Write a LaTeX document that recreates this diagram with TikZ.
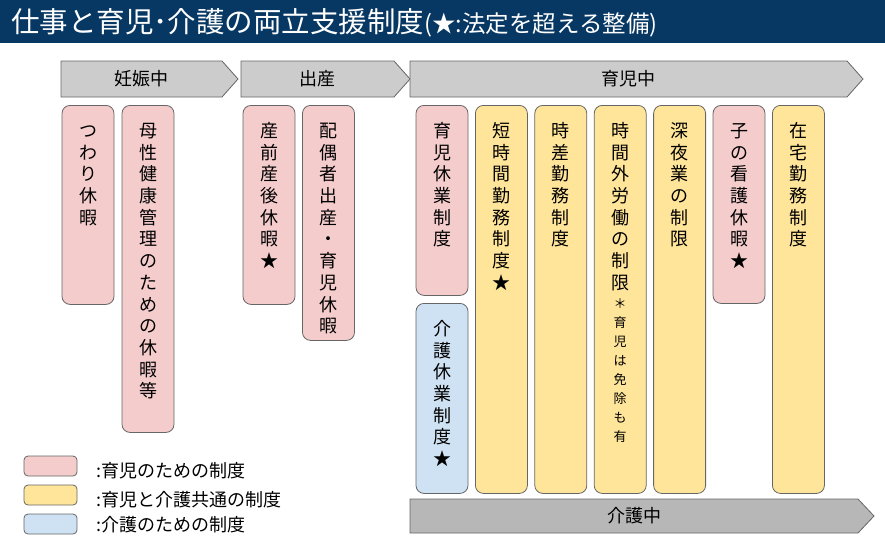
\documentclass[tikz,border=0pt]{standalone}
\usepackage{fontspec}
\setmainfont{Noto Sans CJK JP}
\newfontfamily\titlefont{Noto Sans CJK JP}
\usepackage{tikz}
\usepackage{xcolor}

\definecolor{titleblue}{HTML}{073763}
\definecolor{linegray}{HTML}{666666}
\definecolor{phasegray}{HTML}{CCCCCC}
\definecolor{kaigogray}{HTML}{B7B7B7}
\definecolor{pinkfill}{HTML}{F4CCCC}
\definecolor{yellowfill}{HTML}{FFE599}
\definecolor{bluefill}{HTML}{CFE2F3}

% vertical text, one character per line
\newcommand{\tate}[2]{\parbox[c][#1][t]{52pt}{\centering\rule{0pt}{32pt}#2}}

\begin{document}
\begin{tikzpicture}[
                x=1pt, y=-1pt,
                phase/.style={draw=linegray, line width=0.8pt, fill=phasegray},
                phaselabel/.style={font=\fontsize{18}{18}\selectfont},
                seido/.style={draw=linegray, line width=0.8pt, rounded corners=8pt,
                    anchor=north, inner sep=0pt, font=\fontsize{18}{21.7}\selectfont},
                ikuji/.style={seido, fill=pinkfill},
                kyotsu/.style={seido, fill=yellowfill},
                kaigo/.style={seido, fill=bluefill},
                hanrei/.style={draw=linegray, line width=0.8pt, rounded corners=4pt,
                    minimum width=53pt, minimum height=20pt, inner sep=0pt},
                hanreitext/.style={anchor=west, inner sep=0pt, font=\fontsize{18}{18}\selectfont}]
            \useasboundingbox (0,0) rectangle (885,539);
            % title
            \fill[titleblue] (0,0) rectangle (885,43);
            \node[anchor=base west, inner sep=0pt, text=white] (title) at (11,32)
                {\titlefont\fontsize{28.5}{28.5}\selectfont 仕事と育児･介護の両立支援制度{\fontsize{23.5}{23.5}\selectfont(★:法定を超える整備)}};
            % phases
            \draw[phase] (61,61) -- (222,61) -- (238,79) -- (222,97) -- (61,97) -- cycle;
            \draw[phase] (241,61) -- (394,61) -- (410,79) -- (394,97) -- (241,97) -- cycle;
            \draw[phase] (410,61) -- (847,61) -- (863,79) -- (847,97) -- (410,97) -- cycle;
            \draw[phase, fill=kaigogray] (410,499) -- (858,499) -- (874,516) -- (858,533) -- (410,533) -- cycle;
            \node[phaselabel] (ninshin) at (141.5,79) {妊娠中};
            \node[phaselabel] (shussan) at (317.5,79) {出産};
            \node[phaselabel] (ikujichu) at (628.5,79) {育児中};
            \node[phaselabel] (kaigochu) at (634,516) {介護中};
            % systems
            \node[ikuji] (tsuwari) at (88,105) {\tate{199pt}{つ\\わ\\り\\休\\暇}};
            \node[ikuji] (bosei) at (148,105)
                {\tate{327pt}{母\\性\\健\\康\\管\\理\\の\\た\\め\\の\\休\\暇\\等}};
            \node[ikuji] (sanzen) at (269,105) {\tate{199pt}{産\\前\\産\\後\\休\\暇\\★}};
            \node[ikuji] (haiguusha) at (328.5,105)
                {\tate{235pt}{配\\偶\\者\\出\\産\\・\\育\\児\\休\\暇}};
            \node[ikuji] (ikukyu) at (442,105) {\tate{190pt}{育\\児\\休\\業\\制\\度}};
            \node[kaigo] (kaigokyu) at (442,303) {\tate{190pt}{介\\護\\休\\業\\制\\度\\★}};
            \node[kyotsu] (tanjikan) at (501.4,105) {\tate{388pt}{短\\時\\間\\勤\\務\\制\\度\\★}};
            \node[kyotsu] (jisa) at (560.8,105) {\tate{388pt}{時\\差\\勤\\務\\制\\度}};
            \node[kyotsu] (jikangai) at (620.2,105)
                {\tate{388pt}{時\\間\\外\\労\\働\\の\\制\\限\par
                    {\fontsize{13}{19}\selectfont ＊\\育\\児\\は\\免\\除\\も\\有\par}}};
            \node[kyotsu] (shinya) at (679.6,105) {\tate{388pt}{深\\夜\\業\\の\\制\\限}};
            \node[ikuji] (kango) at (739,105) {\tate{198pt}{子\\の\\看\\護\\休\\暇\\★}};
            \node[kyotsu] (zaitaku) at (798.4,105) {\tate{388pt}{在\\宅\\勤\\務\\制\\度}};
            % legend
            \node[hanrei, fill=pinkfill] (hanreiikuji) at (50.5,466) {};
            \node[hanrei, fill=yellowfill] (hanreikyotsu) at (50.5,495) {};
            \node[hanrei, fill=bluefill] (hanreikaigo) at (50.5,524) {};
            \node[hanreitext] (hanreiikujitext) at (96,471) {:育児のための制度};
            \node[hanreitext] (hanreikyotsutext) at (96,500) {:育児と介護共通の制度};
            \node[hanreitext] (hanreikaigotext) at (96,525) {:介護のための制度};
        \end{tikzpicture}
\end{document}
